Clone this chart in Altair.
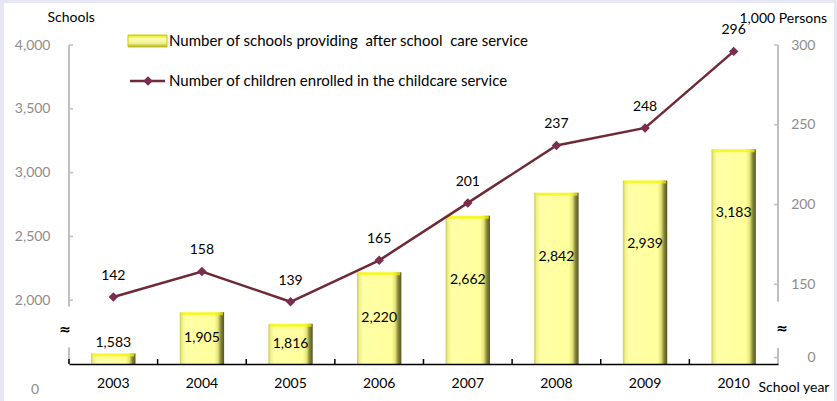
import altair as alt
import pandas as pd

# ---- data ----
years = ["2003", "2004", "2005", "2006", "2007", "2008", "2009", "2010"]
schools = [1583, 1905, 1816, 2220, 2662, 2842, 2939, 3183]
children = [142, 158, 139, 165, 201, 237, 248, 296]
left_ticks = [2000, 2500, 3000, 3500, 4000]
right_ticks = [104, 150, 200, 250, 300]  # 104 stands for the broken-axis "0"

W, H = 709, 319
FONT = "Lato"
GRAY = "#8c8c8c"
AXC = "#c0c0c0"
NB = "\u00a0"

df = pd.DataFrame({"year": years, "schools": schools, "children": children})
one = pd.DataFrame({"k": [1]})
lt = pd.DataFrame({"v": left_ticks})
rt = pd.DataFrame({"v": right_ticks})

xscale = alt.Scale(paddingInner=0.5, paddingOuter=0.25)
xaxis = alt.Axis(domainColor="black", domainWidth=1.5, ticks=False, labelFontSize=14,
                 labelColor="black", labelFont=FONT, labelPadding=12, labelAngle=0,
                 title="School year", titleX=689, titleY=23, titleAlign="left",
                 titleBaseline="middle", titleFontWeight="normal", titleFontSize=14,
                 titleFont=FONT, titleColor="black", grid=False, zindex=2)
X = alt.X("year:N", scale=xscale, axis=xaxis, sort=years)

lscale = alt.Scale(domain=[1500, 4000], nice=False, zero=False)
laxis = alt.Axis(values=left_ticks, labelExpr="format(datum.value, ',')",
                 labelColor=GRAY, labelFontSize=14,
                 labelFont=FONT, ticks=False, domain=False, grid=False, labelPadding=19,
                 title="Schools", titleAngle=0, titleX=-22, titleY=-28, titleAlign="left",
                 titleBaseline="middle", titleFontWeight="normal", titleFontSize=14,
                 titleFont=FONT, titleColor="black", zindex=2)
rscale = alt.Scale(domain=[100, 300], nice=False, zero=False)
raxis = alt.Axis(orient="right", values=right_ticks,
                 labelExpr="datum.value < 110 ? '0' : format(datum.value, ',')",
                 labelColor=GRAY, labelFontSize=14, labelFont=FONT, labelAlign="right",
                 ticks=False, domain=False, grid=False, labelPadding=37,
                 title="1,000 Persons", titleAngle=0, titleX=-39, titleY=-27,
                 titleAlign="left", titleBaseline="middle", titleFontWeight="normal",
                 titleFontSize=14, titleFont=FONT, titleColor="black", zindex=2)


def LY(field=None, datum=None):
    if field is not None:
        return alt.Y(field, type="quantitative", scale=lscale, axis=laxis)
    return alt.Y(datum=datum, type="quantitative", scale=lscale, axis=laxis)


def RY(field=None, datum=None):
    if field is not None:
        return alt.Y(field, type="quantitative", scale=rscale, axis=raxis)
    return alt.Y(datum=datum, type="quantitative", scale=rscale, axis=raxis)


bar_grad = alt.LinearGradient(
    gradient="linear", x1=0, x2=1, y1=0, y2=0,
    stops=[
        alt.GradientStop(color="#c8c850", offset=0),
        alt.GradientStop(color="#f0f088", offset=0.05),
        alt.GradientStop(color="#ffffa8", offset=0.14),
        alt.GradientStop(color="#ffff9c", offset=0.78),
        alt.GradientStop(color="#e4e476", offset=0.86),
        alt.GradientStop(color="#84843a", offset=0.93),
        alt.GradientStop(color="#545422", offset=1),
    ])
leg_grad = alt.LinearGradient(
    gradient="linear", x1=0, x2=0, y1=0, y2=1,
    stops=[
        alt.GradientStop(color="#e0e000", offset=0),
        alt.GradientStop(color="#ffffb0", offset=0.3),
        alt.GradientStop(color="#f0f090", offset=0.7),
        alt.GradientStop(color="#a8a838", offset=1),
    ])

# ---------- left (schools) group ----------
bg = alt.Chart(one).mark_rect(fill="white").encode(
    x=alt.value(-65), x2=alt.value(765), y=alt.value(-42), y2=alt.value(356))

bars = alt.Chart(df).mark_bar(fill=bar_grad).encode(
    x=X, y=LY("schools"), y2=alt.Y2(datum=1500))
bartop = alt.Chart(df).mark_tick(color="#f4f400", thickness=3, size=42, yOffset=1.5).encode(
    x=X, y=LY("schools"))
barlab = alt.Chart(df).transform_calculate(
    lab="datum.schools < 1650 ? datum.schools + 85 : max((datum.schools + 1500) / 2, datum.schools - 500)"
).mark_text(font=FONT, fontSize=14, color="black", baseline="middle").encode(
    x=X, y=LY("lab"), text=alt.Text("schools:Q", format=","))

ldom1 = alt.Chart(one).mark_rule(color=AXC, strokeWidth=2).encode(
    x=alt.value(0), y=LY(datum=4000), y2=alt.Y2(datum=1950))
ldom2 = alt.Chart(one).mark_rule(color=AXC, strokeWidth=2).encode(
    x=alt.value(0), y=LY(datum=1630), y2=alt.Y2(datum=1500))
lticks = alt.Chart(lt).mark_rule(color=AXC, strokeWidth=1.5).encode(
    x=alt.value(0), x2=alt.value(4), y=LY("v"))
lzero = alt.Chart(one).mark_text(font=FONT, fontSize=14, color=GRAY, baseline="middle").encode(
    x=alt.value(-34), y=LY(datum=1296), text=alt.value("0"))
lbreak = alt.Chart(one).mark_text(font="DejaVu Sans", fontSize=14, fontWeight="bold",
                                  color="black", baseline="middle").encode(
    x=alt.value(-4), y=LY(datum=1763), text=alt.value("≈"))

xticks = alt.Chart(df).mark_rule(color="black", strokeWidth=1.5, xOffset=44.3).encode(
    x=X, y=alt.value(H - 5), y2=alt.value(H))
xtick0 = alt.Chart(one).mark_rule(color="black", strokeWidth=1.5).encode(
    x=alt.value(0), y=alt.value(H - 5), y2=alt.value(H))

# legend (drawn by hand)
leg_rect = alt.Chart(one).mark_rect(fill=leg_grad, stroke="#c8c800", strokeWidth=1).encode(
    x=alt.value(59), x2=alt.value(98), y=alt.value(-10), y2=alt.value(2))
leg_line = alt.Chart(one).mark_rule(color="#6e2a35", strokeWidth=2.5).encode(
    x=alt.value(61), x2=alt.value(96), y=alt.value(36))
leg_pt = alt.Chart(one).mark_point(shape="diamond", filled=True, size=90, color="#7b2d4f",
                                   opacity=1).encode(x=alt.value(79), y=alt.value(36))
leg_t1 = alt.Chart(one).mark_text(font=FONT, fontSize=15, color="black", align="left",
                                  baseline="middle").encode(
    x=alt.value(100), y=alt.value(-4),
    text=alt.value(f"Number of schools providing {NB}after school {NB}care service"))
leg_t2 = alt.Chart(one).mark_text(font=FONT, fontSize=15, color="black", align="left",
                                  baseline="middle").encode(
    x=alt.value(100), y=alt.value(36),
    text=alt.value("Number of children enrolled in the childcare service"))

left = alt.layer(bg, bars, bartop, barlab, ldom1, ldom2, lticks, lzero, lbreak,
                 xticks, xtick0, leg_rect, leg_line, leg_pt, leg_t1, leg_t2)

# ---------- right (children) group ----------
line = alt.Chart(df).mark_line(color="#6e2a35", strokeWidth=2.5).encode(x=X, y=RY("children"))
pts = alt.Chart(df).mark_point(shape="diamond", filled=True, size=90, color="#7b2d4f",
                               opacity=1).encode(x=X, y=RY("children"))
plab = alt.Chart(df).mark_text(font=FONT, fontSize=14, color="black", baseline="middle",
                               dy=-21).encode(x=X, y=RY("children"), text="children:Q")
rdom1 = alt.Chart(one).mark_rule(color=AXC, strokeWidth=2).encode(
    x=alt.value(W), y=RY(datum=300), y2=alt.Y2(datum=139))
rdom2 = alt.Chart(one).mark_rule(color=AXC, strokeWidth=2).encode(
    x=alt.value(W), y=RY(datum=110), y2=alt.Y2(datum=100))
rticks = alt.Chart(rt).mark_rule(color=AXC, strokeWidth=1.5).encode(
    x=alt.value(W - 4), x2=alt.value(W), y=RY("v"))
rbreak = alt.Chart(one).mark_text(font="DejaVu Sans", fontSize=14, fontWeight="bold",
                                  color="black", baseline="middle").encode(
    x=alt.value(W + 4), y=RY(datum=122), text=alt.value("≈"))

right = alt.layer(line, pts, plab, rdom1, rdom2, rticks, rbreak)

chart = alt.layer(left, right).resolve_scale(y="independent").properties(
    width=W, height=H,
    autosize=alt.AutoSizeParams(type="none"),
    padding={"left": 69, "top": 45, "right": 59, "bottom": 37},
    background="#e6e6f4",
).configure_view(stroke=None).configure_axis(grid=False)

chart.save("out.html", embed_options={"renderer": "svg", "actions": False})
